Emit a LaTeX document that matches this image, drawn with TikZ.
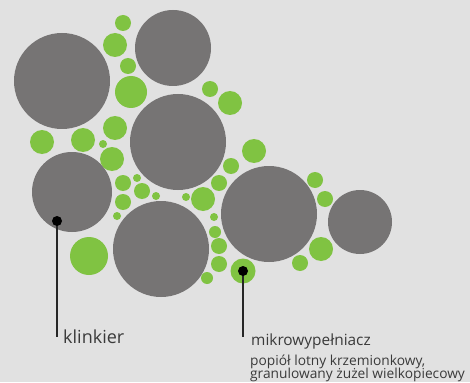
\documentclass[tikz,border=0pt]{standalone}
\usepackage{fontspec}
\setmainfont{Open Sans}
\definecolor{bgc}{HTML}{E1E1E1}
\definecolor{clink}{HTML}{767474}
\definecolor{cgreen}{HTML}{80C342}
\definecolor{ctext}{HTML}{3A3A3A}
\begin{document}
\begin{tikzpicture}[x=1pt,y=-1pt,
  graycirc/.style={fill=clink},
  greencirc/.style={fill=cgreen},
  pin/.style={fill=black},
  leader/.style={draw=black!85, line width=2pt},
  labelbase/.style={anchor=base west, inner sep=0pt, text=ctext},
  labelsmall/.style={anchor=base west, inner sep=0pt, text=ctext, font=\fontsize{13.75}{12.5}\selectfont}]
\fill[bgc] (0,0) rectangle (470,382);
\useasboundingbox (0,0) rectangle (470,382);
\clip (0,0) rectangle (470,382);
% clinker grains
\foreach \x/\y/\r in {62/81/48, 173/48/38, 178/142/48, 72/192/40, 161/249/48, 269/214/48, 360/222/32}
  \fill[graycirc] (\x,\y) circle (\r);
% micro-filler grains
\foreach \x/\y/\r in {123/23/8, 115/45/12, 128/66/8, 131/92/16, 42/142/12, 83/140/12, 115/128/12,
  103/144/4, 112/159/12, 123/183/8, 137/178/4, 142/191/8, 156/196/4, 123/202/8, 117/216/4,
  186/197/4, 203/199/12, 214/217/4, 215/232/6, 219/246/8, 219/264/8, 207/278/6,
  210/89/8, 230/103/12, 254/151/12, 231/166/8, 219/183/8, 315/180/8, 325/199/8,
  321/249/12, 300/263/8, 89/256/19}
  \fill[greencirc] (\x,\y) circle (\r);
\fill[greencirc] (243,271) circle (12.5);
% pins
\coordinate (kdot) at (57,221);
\coordinate (mdot) at (243,271);
\coordinate (kend) at (57,337);
\coordinate (mend) at (243,337);
\draw[leader] (kdot) -- (kend);
\draw[leader] (mdot) -- (mend);
\fill[pin] (kdot) circle (5);
\fill[pin] (mdot) circle (5);
\node[labelbase, font=\fontsize{18}{20}\selectfont] (klab) at (63,343.5) {klinkier};
\node[labelbase, font=\fontsize{15.4}{18}\selectfont] (mlab) at (251,345) {mikrowypełniacz};
\node[labelsmall] (msub1) at (250,365.5) {popiół lotny krzemionkowy,};
\node[labelsmall] (msub2) at (250,378) {granulowany żużel wielkopiecowy};
\end{tikzpicture}
\end{document}
